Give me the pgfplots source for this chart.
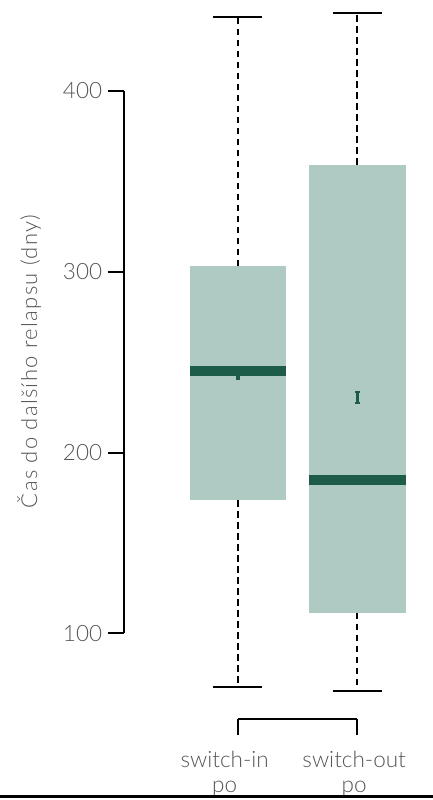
\documentclass[border=0pt]{standalone}
\usepackage{pgfplots}
\pgfplotsset{compat=1.18}
\usepackage{fontspec}
\setmainfont{Lato}[UprightFont={* Light}]
\newfontfamily\labelfont{Lato}[UprightFont={* Light}, LetterSpace=6]
\definecolor{boxfill}{HTML}{AECAC2}
\definecolor{mediancol}{HTML}{1E5C4A}
\definecolor{labelgray}{HTML}{555555}

\begin{document}
\begin{tikzpicture}
\begin{axis}[
    at={(74.4pt,48.6pt)}, anchor=south west,
    scale only axis, width=185.4pt, height=431.4pt,
    xmin=0.046, xmax=2.632, ymin=52.6, ymax=450.3,
    axis x line*=bottom, axis y line*=left,
    axis line style={draw=none},
    xtick={1},
    xticklabels={switch-in\\po},
    extra x ticks={2},
    extra x tick labels={switch-out\\po},
    extra x tick style={xticklabel style={xshift=6pt}},
    ytick={100,200,300,400},
    tick align=outside,
    major tick length=9.6pt,
    tick style={black, line width=1.2pt},
    /pgf/number format/assume math mode=true,
    ticklabel style={font=\fontsize{13.5}{15}\selectfont, text=labelgray},
    xticklabel style={align=center, yshift=-6pt, xshift=-8pt},
    ylabel={Čas do dalšího relapsu (dny)},
    ylabel style={font=\labelfont\fontsize{13.2}{15}\selectfont, text=labelgray,
        at={(axis description cs:-0.307,0.497)}, anchor=center},
    clip=false,
    whisk/.style={black, line width=1.2pt, dash pattern=on 4pt off 2.6pt},
    cap/.style={black, line width=1.2pt},
]
    % boxes: switch-in po (q1 173.5, q3 303), switch-out po (q1 111.4, q3 359)
    \addplot[fill=boxfill, draw=none] coordinates {(0.595,173.5) (1.405,173.5) (1.405,303) (0.595,303)} -- cycle;
    \addplot[fill=boxfill, draw=none] coordinates {(1.595,111.4) (2.405,111.4) (2.405,359) (1.595,359)} -- cycle;

    % medians
    \addplot[mediancol, line width=6pt] coordinates {(0.595,245) (1.405,245)};
    \addplot[mediancol, line width=6pt] coordinates {(1.595,185) (2.405,185)};

    % whiskers
    \addplot[whisk] coordinates {(1,303) (1,440.7)};
    \addplot[whisk] coordinates {(1,173.5) (1,70.5)};
    \addplot[whisk] coordinates {(2,359) (2,443.3)};
    \addplot[whisk] coordinates {(2,111.4) (2,68.3)};

    % whisker caps
    \addplot[cap] coordinates {(0.795,440.7) (1.205,440.7)};
    \addplot[cap] coordinates {(0.795,70.5) (1.205,70.5)};
    \addplot[cap] coordinates {(1.795,443.3) (2.205,443.3)};
    \addplot[cap] coordinates {(1.795,68.3) (2.205,68.3)};

    % means (small I-beam)
    \addplot[mediancol, line width=2pt] coordinates {(1,240.6) (1,246.2)};
    \addplot[mediancol, line width=1.2pt] coordinates {(0.982,240.6) (1.018,240.6)};
    \addplot[mediancol, line width=1.2pt] coordinates {(0.982,246.2) (1.018,246.2)};
    \addplot[mediancol, line width=2pt] coordinates {(2,227.6) (2,233.2)};
    \addplot[mediancol, line width=1.2pt] coordinates {(1.982,227.6) (2.018,227.6)};
    \addplot[mediancol, line width=1.2pt] coordinates {(1.982,233.2) (2.018,233.2)};

    % axis lines
    \addplot[black, line width=1.2pt] coordinates {(0.046,100) (0.046,400)};
    \addplot[black, line width=1.2pt] coordinates {(1,52.6) (2,52.6)};
\end{axis}
\draw[line width=1.8pt] (0pt,1.8pt) -- (259.8pt,1.8pt);
\pgfresetboundingbox
\useasboundingbox (0pt,0pt) rectangle (259.8pt,480pt);
\end{tikzpicture}
\end{document}
